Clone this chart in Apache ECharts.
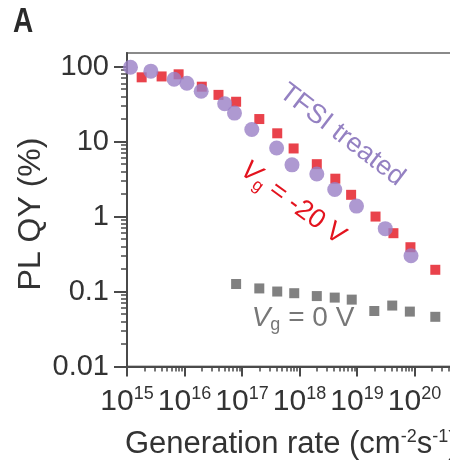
<!DOCTYPE html>
<html>
<head>
<meta charset="utf-8">
<script src="https://cdn.jsdelivr.net/npm/echarts@6/dist/echarts.min.js"></script>
<style>
  html, body { margin: 0; padding: 0; background: #fff; }
  #chart { width: 450px; height: 463px; }
</style>
</head>
<body>
<div id="chart"></div>
<script>
// PL quantum yield vs. generation rate
const tfsiRate = [1.15e15, 2.6e15, 6.6e15, 1.1e16, 1.95e16, 5.0e16, 7.4e16, 1.48e17, 4.0e17, 7.4e17, 2.0e18, 4.1e18, 9.8e18, 3.1e19, 8.7e19];
const tfsiQY   = [98, 87, 68, 60, 47, 32, 24, 14.5, 8.2, 4.9, 3.7, 2.3, 1.38, 0.69, 0.30];

const neg20Rate = [1.8e15, 4.0e15, 7.9e15, 2.0e16, 3.9e16, 7.9e16, 2.0e17, 4.1e17, 7.9e17, 2.0e18, 4.2e18, 7.9e18, 2.1e19, 4.3e19, 8.5e19, 2.3e20];
const neg20QY   = [72, 74, 79, 54, 42, 34, 20, 12.9, 8.1, 5.0, 3.2, 1.95, 1.0, 0.60, 0.39, 0.195];

const zeroRate = [7.9e16, 2.0e17, 4.1e17, 8.1e17, 2.0e18, 4.1e18, 8.1e18, 2.0e19, 4.1e19, 8.3e19, 2.3e20];
const zeroQY   = [0.126, 0.110, 0.100, 0.095, 0.087, 0.083, 0.078, 0.055, 0.065, 0.054, 0.046];

// axis ticks
const xMajorTicks = [1e15, 1e16, 1e17, 1e18, 1e19, 1e20];
const yMajorTicks = [0.01, 0.1, 1, 10, 100];
const yLabels = { '-2': '0.01', '-1': '0.1', '0': '1', '1': '10', '2': '100' };

function minorTicks(fromExp, toExp) {
  const out = [];
  for (let e = fromExp; e < toExp; e++) {
    for (let m = 2; m <= 9; m++) out.push(m * Math.pow(10, e));
  }
  return out;
}
const xMinorTicks = minorTicks(15, 21);
const yMinorTicks = minorTicks(-2, 2);

const zip = (xs, ys) => xs.map((x, i) => [x, ys[i]]);

const FONT = '"Liberation Sans", Arial, Helvetica, sans-serif';
const AXIS_COLOR = '#4a4a4a';
const RED = '#e3131e';
const X_MIN = 1e15, X_MAX = 1e21, Y_MIN = 0.01, Y_MAX = 152;

const chart = echarts.init(document.getElementById('chart'), null, { renderer: 'canvas' });

const baseX = {
  type: 'log', logBase: 10, min: X_MIN, max: X_MAX, gridIndex: 0, position: 'bottom',
  splitLine: { show: false }
};
const baseY = {
  type: 'log', logBase: 10, min: Y_MIN, max: Y_MAX, gridIndex: 0, position: 'left',
  splitLine: { show: false }
};

chart.setOption({
  animation: false,
  backgroundColor: '#fff',
  grid: {
    left: 127, top: 53, width: 345, height: 313.5,
    outerBoundsMode: 'none',
    show: true, borderColor: '#8a8a8a', borderWidth: 2, backgroundColor: 'transparent'
  },
  xAxis: [
    Object.assign({}, baseX, {
      axisLine: { show: true, lineStyle: { color: AXIS_COLOR, width: 2 } },
      axisTick: { show: true, inside: false, length: 10, customValues: xMajorTicks,
                  lineStyle: { color: AXIS_COLOR, width: 2 } },
      axisLabel: {
        show: true, margin: 19, customValues: xMajorTicks,
        formatter: v => '{b|10}{s|' + Math.round(Math.log10(v)) + '}',
        rich: {
          b: { fontSize: 30, fontFamily: FONT, color: '#333' },
          s: { fontSize: 18, fontFamily: FONT, color: '#333', padding: [0, 0, 14, 0] }
        }
      }
    }),
    Object.assign({}, baseX, {
      axisLine: { show: false },
      axisTick: { show: true, inside: false, length: 5, customValues: xMinorTicks,
                  lineStyle: { color: AXIS_COLOR, width: 1.5 } },
      axisLabel: { show: false }
    })
  ],
  yAxis: [
    Object.assign({}, baseY, {
      axisLine: { show: true, lineStyle: { color: AXIS_COLOR, width: 2 } },
      axisTick: { show: true, inside: false, length: 13, customValues: yMajorTicks,
                  lineStyle: { color: AXIS_COLOR, width: 2 } },
      axisLabel: {
        show: true, margin: 18, customValues: yMajorTicks,
        fontSize: 29, fontFamily: FONT, color: '#333',
        formatter: v => yLabels[String(Math.round(Math.log10(v)))]
      }
    }),
    Object.assign({}, baseY, {
      axisLine: { show: false },
      axisTick: { show: true, inside: false, length: 6, customValues: yMinorTicks,
                  lineStyle: { color: AXIS_COLOR, width: 1.5 } },
      axisLabel: { show: false }
    })
  ],
  series: [
    {
      name: 'Vg = 0 V', type: 'scatter', xAxisIndex: 0, yAxisIndex: 0,
      symbol: 'rect', symbolSize: 10, z: 3,
      itemStyle: { color: '#626262' },
      data: zip(zeroRate, zeroQY)
    },
    {
      name: 'Vg = -20 V', type: 'scatter', xAxisIndex: 0, yAxisIndex: 0,
      symbol: 'rect', symbolSize: 10, z: 4,
      itemStyle: { color: RED },
      data: zip(neg20Rate, neg20QY)
    },
    {
      name: 'TFSI treated', type: 'scatter', xAxisIndex: 0, yAxisIndex: 0,
      symbol: 'circle', symbolSize: 15, z: 5,
      itemStyle: { color: '#9a80c6' },
      data: zip(tfsiRate, tfsiQY)
    }
  ],
  graphic: [
    {
      type: 'text', left: 13, top: 5, scaleY: 1.25,
      style: { text: 'A', font: 'bold 28px ' + FONT, fill: '#2a2a2a' }
    },
    {
      type: 'text', x: 31, y: 214, rotation: Math.PI / 2,
      style: { text: 'PL QY (%)', font: '32px ' + FONT, fill: '#333',
               align: 'center', verticalAlign: 'middle' }
    },
    {
      type: 'text', x: 125, y: 444,
      style: {
        text: '{t|Generation rate (cm}{s|-2}{t|s}{s|-1}{t|)}',
        align: 'left', verticalAlign: 'middle',
        rich: {
          t: { fontSize: 31, fontFamily: FONT, fill: '#333' },
          s: { fontSize: 18, fontFamily: FONT, fill: '#333', padding: [0, 0, 14, 0] }
        }
      }
    },
    {
      type: 'text', x: 342, y: 135, rotation: -37.5 * Math.PI / 180,
      style: { text: 'TFSI treated', font: '27px ' + FONT, fill: '#9481c2',
               align: 'center', verticalAlign: 'middle' }
    },
    {
      type: 'text', x: 293, y: 203, rotation: -36 * Math.PI / 180,
      style: {
        text: '{v|V}{g|g}{t| = -20 V}',
        align: 'center', verticalAlign: 'middle',
        rich: {
          v: { fontSize: 27, fontStyle: 'italic', fontFamily: FONT, fill: RED },
          g: { fontSize: 17, fontFamily: FONT, fill: RED, padding: [14, 0, 0, 0] },
          t: { fontSize: 27, fontFamily: FONT, fill: RED }
        }
      }
    },
    {
      type: 'text', x: 303, y: 318,
      style: {
        text: '{v|V}{g|g}{t| = 0 V}',
        align: 'center', verticalAlign: 'middle',
        rich: {
          v: { fontSize: 28, fontStyle: 'italic', fontFamily: FONT, fill: '#777' },
          g: { fontSize: 18, fontFamily: FONT, fill: '#777', padding: [14, 0, 0, 0] },
          t: { fontSize: 28, fontFamily: FONT, fill: '#777' }
        }
      }
    }
  ]
});
</script>
</body>
</html>
